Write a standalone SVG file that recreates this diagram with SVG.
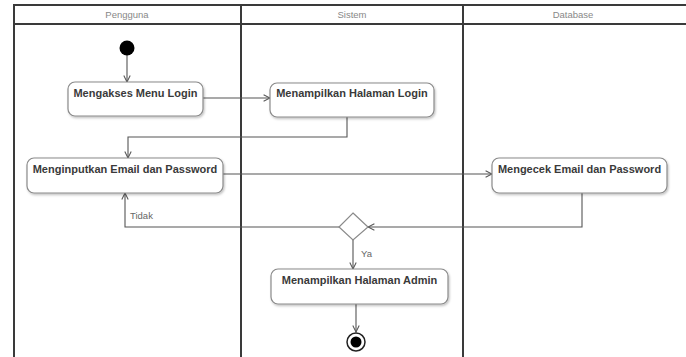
<svg xmlns="http://www.w3.org/2000/svg" width="686" height="357" viewBox="0 0 686 357">
  <defs>
    <marker id="arrow" viewBox="0 0 10 10" refX="9" refY="5" markerWidth="8" markerHeight="8" orient="auto" markerUnits="userSpaceOnUse">
      <path d="M1,1 L9,5 L1,9" fill="none" stroke="#555" stroke-width="1.3"/>
    </marker>
    <filter id="shadow" x="-10%" y="-20%" width="120%" height="150%">
      <feDropShadow dx="1" dy="1.5" stdDeviation="1" flood-color="#000" flood-opacity="0.25"/>
    </filter>
  </defs>
  <style>
    .lane { stroke: #3a3a3a; stroke-width: 2; fill: none; }
    .head { font-family: "Liberation Sans", Arial, sans-serif; font-size: 9.5px; fill: #888; text-anchor: middle; }
    .act rect { fill: #fff; stroke: #8a8a8a; stroke-width: 1.2; filter: url(#shadow); }
    .act text { font-family: "Liberation Sans", Arial, sans-serif; font-size: 11px; font-weight: bold; fill: #3a3a3a; text-anchor: middle; }
    .conn { stroke: #555; stroke-width: 1.1; fill: none; }
    .lbl { font-family: "Liberation Sans", Arial, sans-serif; font-size: 9.5px; fill: #666; }
  </style>
  <rect width="686" height="357" fill="#fff"/>

  <!-- swimlanes -->
  <g id="lanes">
    <line class="lane" x1="13" y1="5" x2="686" y2="5"/>
    <line class="lane" x1="13" y1="24" x2="686" y2="24"/>
    <line class="lane" x1="14" y1="5" x2="14" y2="357"/>
    <line class="lane" x1="241" y1="5" x2="241" y2="357"/>
    <line class="lane" x1="463" y1="5" x2="463" y2="357"/>
    <text class="head" x="127" y="18">Pengguna</text>
    <text class="head" x="352" y="18">Sistem</text>
    <text class="head" x="573" y="18">Database</text>
  </g>

  <!-- connectors -->
  <g id="connectors">
    <line class="conn" x1="127" y1="55" x2="127" y2="82" marker-end="url(#arrow)"/>
    <line class="conn" x1="203" y1="98" x2="270" y2="98" marker-end="url(#arrow)"/>
    <polyline class="conn" points="347,117 347,137 128,137 128,158" marker-end="url(#arrow)"/>
    <line class="conn" x1="223" y1="174" x2="492" y2="174" marker-end="url(#arrow)"/>
    <polyline class="conn" points="582,193 582,227 368,227" marker-end="url(#arrow)"/>
    <polyline class="conn" points="339,227 125,227 125,193" marker-end="url(#arrow)"/>
    <line class="conn" x1="353" y1="240" x2="353" y2="269" marker-end="url(#arrow)"/>
    <line class="conn" x1="356" y1="304" x2="356" y2="332" marker-end="url(#arrow)"/>
    <text class="lbl" x="130" y="219">Tidak</text>
    <text class="lbl" x="361" y="257">Ya</text>
  </g>

  <!-- start -->
  <g id="start">
    <circle cx="127" cy="48" r="7.5" fill="#000"/>
  </g>

  <g id="mengakses-menu-login" class="act">
    <rect x="68" y="82" width="135" height="34" rx="7"/>
    <text x="135.5" y="97">Mengakses Menu Login</text>
  </g>

  <g id="menampilkan-halaman-login" class="act">
    <rect x="270" y="83" width="164" height="34" rx="7"/>
    <text x="352" y="97">Menampilkan Halaman Login</text>
  </g>

  <g id="menginputkan-email-password" class="act">
    <rect x="27" y="158" width="196" height="35" rx="7"/>
    <text x="125" y="173">Menginputkan Email dan Password</text>
  </g>

  <g id="mengecek-email-password" class="act">
    <rect x="492" y="158" width="175" height="35" rx="7"/>
    <text x="579.5" y="173">Mengecek Email dan Password</text>
  </g>

  <g id="decision">
    <polygon points="353,213 368,227 353,240 339,227" fill="#fff" stroke="#8a8a8a" stroke-width="1.2"/>
  </g>

  <g id="menampilkan-halaman-admin" class="act">
    <rect x="271" y="269" width="177" height="35" rx="7"/>
    <text x="359.5" y="284">Menampilkan Halaman Admin</text>
  </g>

  <!-- end -->
  <g id="end">
    <circle cx="356" cy="342" r="9" fill="#fff" stroke="#222" stroke-width="1.5"/>
    <circle cx="356" cy="342" r="5.5" fill="#000"/>
  </g>
</svg>
